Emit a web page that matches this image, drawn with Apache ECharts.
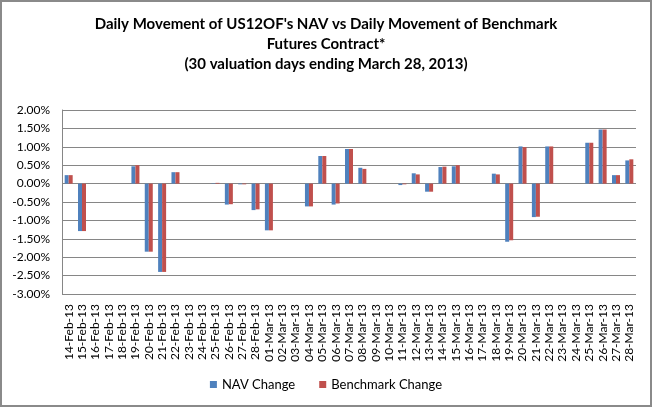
<!DOCTYPE html>
<html>
<head>
<meta charset="utf-8">
<script src="https://cdn.jsdelivr.net/npm/echarts@6/dist/echarts.min.js"></script>
<style>
  html, body { margin: 0; padding: 0; background: #fff; }
  #frame { width: 652px; height: 407px; box-sizing: border-box; border: 2px solid #8a8a8a; }
  #Movement { width: 648px; height: 403px; }
</style>
</head>
<body>
<div id="frame"><div id="Movement"></div></div>
<script>
// every calendar day, weekends/holidays carry zero
var days = [
  '14-Feb-13', '15-Feb-13', '16-Feb-13', '17-Feb-13', '18-Feb-13', '19-Feb-13', '20-Feb-13',
  '21-Feb-13', '22-Feb-13', '23-Feb-13', '24-Feb-13', '25-Feb-13', '26-Feb-13', '27-Feb-13',
  '28-Feb-13', '01-Mar-13', '02-Mar-13', '03-Mar-13', '04-Mar-13', '05-Mar-13', '06-Mar-13',
  '07-Mar-13', '08-Mar-13', '09-Mar-13', '10-Mar-13', '11-Mar-13', '12-Mar-13', '13-Mar-13',
  '14-Mar-13', '15-Mar-13', '16-Mar-13', '17-Mar-13', '18-Mar-13', '19-Mar-13', '20-Mar-13',
  '21-Mar-13', '22-Mar-13', '23-Mar-13', '24-Mar-13', '25-Mar-13', '26-Mar-13', '27-Mar-13',
  '28-Mar-13'
];

// daily change, in percent
var navChange = [
  0.23, -1.29, 0, 0, 0, 0.47, -1.85,
  -2.40, 0.31, 0, 0, 0.01, -0.57, -0.02,
  -0.72, -1.27, 0, 0, -0.62, 0.75, -0.57,
  0.94, 0.43, 0, 0, -0.04, 0.28, -0.22,
  0.45, 0.47, 0, 0, 0.27, -1.58, 1.01,
  -0.91, 1.01, 0, 0, 1.11, 1.47, 0.23,
  0.63
];

var benchChange = [
  0.23, -1.29, 0, 0, 0, 0.50, -1.85,
  -2.40, 0.31, 0, 0, 0.02, -0.56, -0.02,
  -0.70, -1.27, 0, 0, -0.62, 0.75, -0.54,
  0.94, 0.40, 0, 0, -0.02, 0.25, -0.22,
  0.46, 0.50, 0, 0, 0.25, -1.54, 0.99,
  -0.90, 1.01, 0, 0, 1.11, 1.47, 0.23,
  0.66
];

var myChart = echarts.init(document.getElementById('Movement'));

var option = {
  animation: false,
  textStyle: { fontFamily: 'Lato' },
  title: {
    text: "Daily Movement of US12OF's NAV vs Daily Movement of Benchmark\nFutures Contract*\n(30 valuation days ending March 28, 2013)",
    left: 'center',
    top: 7,
    textStyle: { fontSize: 15, fontWeight: 'bold', color: '#000', lineHeight: 20, fontFamily: 'Lato' }
  },
  legend: {
    bottom: 9,
    left: 'center',
    itemWidth: 7,
    itemHeight: 7,
    itemGap: 24,
    icon: 'rect',
    textStyle: { fontSize: 13, color: '#000' },
    data: ['NAV Change', 'Benchmark Change']
  },
  grid: { left: 60, right: 14, top: 108, bottom: 111 },
  xAxis: {
    type: 'category',
    data: days,
    axisLine: { onZero: false, show: false },
    axisTick: { show: false },
    axisLabel: { rotate: 90, interval: 0, fontSize: 12, color: '#000', margin: 10 }
  },
  yAxis: {
    type: 'value',
    min: -3,
    max: 2,
    interval: 0.5,
    axisLine: { show: true, lineStyle: { color: '#868686' } },
    axisTick: { show: false },
    splitLine: { lineStyle: { color: '#868686' } },
    axisLabel: {
      fontSize: 12,
      color: '#000',
      margin: 12,
      formatter: function (v) { return v.toFixed(2) + '%'; }
    }
  },
  series: [
    {
      name: 'NAV Change',
      type: 'bar',
      data: navChange,
      barGap: '0%',
      barCategoryGap: '40%',
      itemStyle: { color: '#4F81BD' }
    },
    {
      name: 'Benchmark Change',
      type: 'bar',
      data: benchChange,
      itemStyle: { color: '#C0504D' }
    }
  ]
};

myChart.setOption(option);
</script>
</body>
</html>
